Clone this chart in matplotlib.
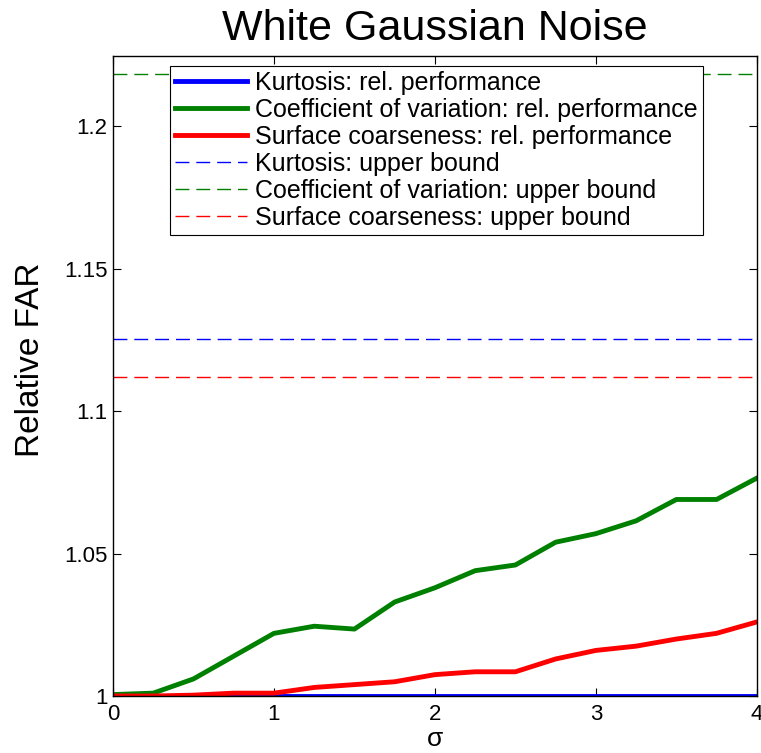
import matplotlib.pyplot as plt
from matplotlib.ticker import FixedLocator, FixedFormatter

plt.rcParams["font.family"] = ["Liberation Sans", "DejaVu Sans"]

sigma = [0, 0.25, 0.5, 0.75, 1.0, 1.25, 1.5, 1.75, 2.0, 2.25, 2.5, 2.75, 3.0, 3.25, 3.5, 3.75, 4.0]
kurtosis_rel = [1.0] * 17
cv_rel = [1.0005, 1.001, 1.006, 1.014, 1.022, 1.0245, 1.0235, 1.033, 1.038,
          1.044, 1.046, 1.054, 1.057, 1.0615, 1.069, 1.069, 1.0765]
sc_rel = [1.0, 1.0, 1.0003, 1.001, 1.001, 1.003, 1.004, 1.005, 1.0075,
          1.0085, 1.0085, 1.013, 1.016, 1.0175, 1.02, 1.022, 1.026]
kurtosis_bound = 1.1255
cv_bound = 1.2185
sc_bound = 1.112

yticks = [1.0, 1.05, 1.1, 1.15, 1.2]
ytick_labels = ["1", "1.05", "1.1", "1.15", "1.2"]

BLUE = "#0000ff"
GREEN = "#008000"
RED = "#ff0000"
DASH = (0, (10, 5))

fig = plt.figure(figsize=(7.61, 7.53), dpi=100)
ax = fig.add_axes([0.1485, 0.0757, 0.846, 0.8495])

ax.plot(sigma, kurtosis_rel, color=BLUE, linewidth=3.5, label="Kurtosis: rel. performance")
ax.plot(sigma, cv_rel, color=GREEN, linewidth=3.5, label="Coefficient of variation: rel. performance")
ax.plot(sigma, sc_rel, color=RED, linewidth=3.5, label="Surface coarseness: rel. performance")
ax.axhline(kurtosis_bound, color=BLUE, linestyle=DASH, linewidth=1.0, label="Kurtosis: upper bound")
ax.axhline(cv_bound, color=GREEN, linestyle=DASH, linewidth=1.0, label="Coefficient of variation: upper bound")
ax.axhline(sc_bound, color=RED, linestyle=DASH, linewidth=1.0, label="Surface coarseness: upper bound")

ax.set_xlim(0, 4)
ax.set_ylim(1.0, 1.2246)
ax.set_xticks([0, 1, 2, 3, 4])
ax.yaxis.set_major_locator(FixedLocator(yticks))
ax.yaxis.set_major_formatter(FixedFormatter(ytick_labels))
ax.tick_params(direction="in", top=True, right=True, labelsize=16, length=6)
ax.tick_params(axis="x", pad=6)
ax.tick_params(axis="y", pad=4)
for s in ax.spines.values():
    s.set_linewidth(1.0)

ax.set_title("White Gaussian Noise", fontsize=31, pad=12)
ax.set_xlabel("σ", fontsize=19, labelpad=1)
ax.set_ylabel("Relative FAR", fontsize=24)
ax.yaxis.set_label_coords(-0.104, 0.525)

leg = ax.legend(loc="upper left", bbox_to_anchor=(0.0885, 0.985), fontsize=18,
                handlelength=2.9, handletextpad=0.3, labelspacing=0.12,
                borderaxespad=0, borderpad=0.2, fancybox=False, framealpha=1,
                edgecolor="black")
leg.get_frame().set_linewidth(0.8)

fig.savefig("out.png", dpi=100)
